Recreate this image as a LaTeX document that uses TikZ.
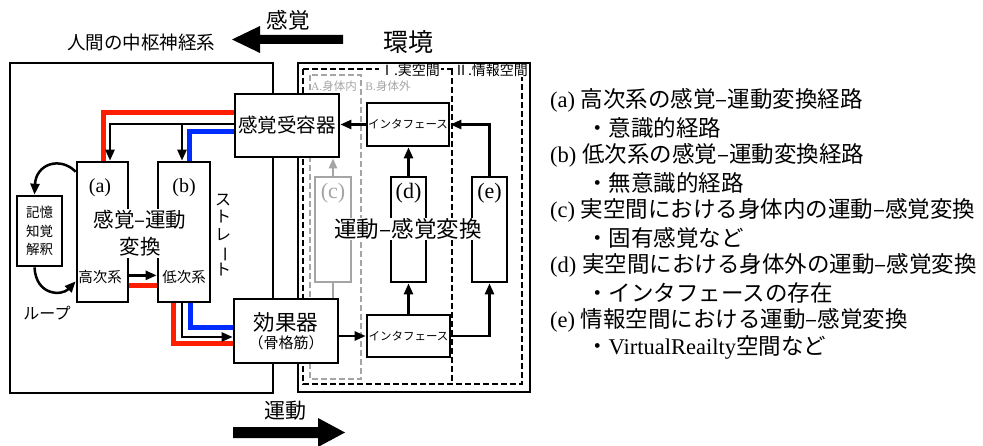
\documentclass[tikz,border=0pt]{standalone}
\usepackage{fontspec}
\usepackage{graphicx}
\setmainfont{Liberation Serif}
\newfontfamily\jp{Noto Sans CJK JP}
\usetikzlibrary{arrows.meta,calc}
\definecolor{myred}{RGB}{255,30,0}
\definecolor{myblue}{RGB}{0,45,255}
\definecolor{mygray}{RGB}{165,165,165}
\newcommand\fs[1]{\fontsize{#1}{#1}\selectfont}
\begin{document}
\begin{tikzpicture}[x=1pt,y=-1pt,
  blk/.style={draw=black, line width=2.7pt, fill=white, inner sep=0pt},
  gblk/.style={draw=mygray, line width=2.7pt, fill=white, inner sep=0pt},
  arr/.style={line width=2.5pt, -{Triangle[length=11pt,width=9pt]}},
  garr/.style={draw=mygray, line width=2.4pt, -{Triangle[length=10pt,width=8pt]}},
  redl/.style={draw=myred, line width=5pt},
  bluel/.style={draw=myblue, line width=5pt},
  dsh/.style={dash pattern=on 6pt off 3pt, line width=1.6pt},
  gdsh/.style={draw=mygray, dash pattern=on 6pt off 3pt, line width=1.6pt},
  jt/.style={font=\jp, inner sep=1pt},
  wt/.style={fill=white, inner sep=1pt},
  leg/.style={anchor=west, inner sep=0pt}
]
\useasboundingbox (0,0) rectangle (983,446);

% big arrows
\fill (343,35) -- (260,35) -- (260,26) -- (232,39.5) -- (260,53) -- (260,44) -- (343,44) -- cycle;
\fill (233,427) -- (318,427) -- (318,418) -- (345,432.5) -- (318,447) -- (318,438) -- (233,438) -- cycle;

\node[jt] (cns) at (141,42) {\fs{18.5}人間の中枢神経系};
\node[jt] (kan) at (288,20) {\fs{21.5}感覚};
\node[jt] (env) at (408,42) {\fs{25}環境};
\node[jt] (und) at (285,411) {\fs{21}運動};

% dashed regions
\draw[dsh] (303,69) rectangle (522,384);
\draw[dsh] (452,69) -- (452,384);
\draw[gdsh] (310,75) rectangle (361,379);
\node[jt,wt] (sp1) at (410,70) {\fs{14}Ⅰ.実空間};
\node[jt,wt] (sp2) at (491,70) {\fs{14}Ⅱ.情報空間};
\node[inner sep=0pt, text=mygray] (ain) at (334,86) {\fs{11.5}A.{\jp 身体内}};
\node[inner sep=0pt, text=mygray] (bout) at (388,86) {\fs{11.5}B.{\jp 身体外}};

% outer boxes
\draw[line width=2.7pt] (10,63) rectangle (273,393);
\draw[line width=2.7pt] (298,63) rectangle (530,392);

% coloured paths (behind boxes)
\node[blk, minimum width=104pt, minimum height=63pt] (rec) at (287,125.5) {};
\node[blk, minimum width=104pt, minimum height=64pt] (eff) at (286,331) {};
\node[blk, minimum width=51pt, minimum height=140pt] (aa) at (102.5,232) {};
\node[blk, minimum width=52pt, minimum height=140pt] (bb) at (184,232) {};

\draw[redl] ([yshift=12.5pt]rec.west) -| ([xshift=0.5pt]aa.north);
\draw[bluel] ([yshift=-6.5pt]rec.west) -| ([xshift=5pt]bb.north);
\draw[redl] ([xshift=-11pt]bb.south) |- ([yshift=-13pt]eff.west);
\draw[bluel] ([xshift=6pt]bb.south) |- ([yshift=3pt]eff.west);
\draw[redl] ([yshift=18pt]aa.south east) -- ([yshift=18pt]bb.south west);

% redraw boxes on top
\node[blk, minimum width=104pt, minimum height=63pt, font=\jp\fs{19.5}] (rec) at (287,125.5) {感覚受容器};
\node[blk, minimum width=104pt, minimum height=64pt, font=\jp, align=center] (eff) at (286,331) {\fs{21.5}効果器\\[2pt]\fs{15}（骨格筋）};
\node[blk, minimum width=51pt, minimum height=140pt] (aa) at (102.5,232) {};
\node[blk, minimum width=52pt, minimum height=140pt] (bb) at (184,232) {};
\node[blk, minimum width=45pt, minimum height=70pt, font=\jp\fontsize{13.5}{18.5}\selectfont, align=center] (mem) at (39.5,231) {記憶\\知覚\\解釈};

\node[inner sep=0pt] (la) at (100,188) {\fs{20}(a)};
\node[inner sep=0pt] (lb) at (184,188) {\fs{20}(b)};
\node[jt] (hi) at (100,277) {\fs{14.5}高次系};
\node[jt] (lo) at (184,277) {\fs{14.5}低次系};
\node[wt, align=center, font=\jp\fontsize{20.5}{27}\selectfont] (smt) at (140,233.5) {感覚–運動\\変換};

% black arrows left
\coordinate (rw) at ([yshift=1.5pt]rec.west);
\coordinate (bn) at ([xshift=-2pt]bb.north);
\draw[arr] (rw) -| ([xshift=7.5pt]aa.north);
\draw[arr] (bn |- rw) -- (bn);
\draw[arr] ([xshift=-2pt]bb.south) |- ([yshift=-6pt]eff.west);
\draw[arr] ([yshift=28pt]aa.south east) -- ([yshift=28pt]bb.south west);

% loop
\draw[arr] ([yshift=-11pt]aa.north west) .. controls (60,156) and (36,164) .. ([xshift=-5pt]mem.north);
\draw[arr] ([xshift=-5pt]mem.south) .. controls (36,296) and (62,296) .. ([yshift=22pt]aa.south west);
\node[jt] (loop) at (47,313) {\fs{16}ループ};
\node[inner sep=1pt, align=center, font=\jp\fontsize{16}{17.5}\selectfont] (str) at (223,235) {ス\\ト\\レ\\\rotatebox[origin=c]{-90}{ー}\\ト};

% right side boxes
\node[blk, minimum width=82pt, minimum height=43pt, font=\jp\fs{11.5}] (if1) at (408,124.5) {インタフェース};
\node[blk, minimum width=83pt, minimum height=42pt, font=\jp\fs{11.5}] (if2) at (408.5,336) {インタフェース};
\node[gblk, minimum width=36pt, minimum height=105pt] (cc) at (333,229.5) {};
\node[blk, minimum width=35pt, minimum height=105pt] (dd) at (408.5,229.5) {};
\node[blk, minimum width=35pt, minimum height=105pt] (ee) at (489.5,229.5) {};
\node[inner sep=0pt, text=mygray] (lc) at (333,193) {\fs{22}(c)};
\node[inner sep=0pt] (ld) at (408.5,193) {\fs{22}(d)};
\node[inner sep=0pt] (le) at (489.5,193) {\fs{22}(e)};
\node[jt, wt] (msc) at (408,229) {\fs{22.5}運動–感覚変換};

\draw[arr] (if1.west) -- (if1.west -| rec.east);
\draw[arr] (ee.north) |- (if1.east);
\draw[arr] (dd.north) -- (dd.north |- if1.south);
\draw[garr] (cc.north) -- (cc.north |- rec.south);
\draw[draw=mygray, line width=2.4pt] (cc.south) -- (cc.south |- eff.north);
\draw[arr] (if2.west -| eff.east) -- (if2.west);
\draw[arr] (if2.north -| dd.south) -- (dd.south);
\draw[arr] (if2.east) -| (ee.south);

% legend
\node[leg] (l1) at (550,100) {\fs{22.5}(a) {\jp 高次系の感覚–運動変換経路}};
\node[leg] (l2) at (586,127.5) {\jp\fs{22.5}・意識的経路};
\node[leg] (l3) at (550,155) {\fs{22.5}(b) {\jp 低次系の感覚–運動変換経路}};
\node[leg] (l4) at (586,182.5) {\jp\fs{22.5}・無意識的経路};
\node[leg] (l5) at (550,210) {\fs{22.5}(c) {\jp 実空間における身体内の運動–感覚変換}};
\node[leg] (l6) at (586,237.5) {\jp\fs{22.5}・固有感覚など};
\node[leg] (l7) at (550,265) {\fs{22.5}(d) {\jp 実空間における身体外の運動–感覚変換}};
\node[leg] (l8) at (586,292.5) {\jp\fs{22.5}・インタフェースの存在};
\node[leg] (l9) at (550,320) {\fs{22.5}(e) {\jp 情報空間における運動–感覚変換}};
\node[leg] (l10) at (586,347.5) {{\jp\fs{22.5}・}\fs{22.5}VirtualReailty{\jp\fs{22.5}空間など}};
\end{tikzpicture}
\end{document}
